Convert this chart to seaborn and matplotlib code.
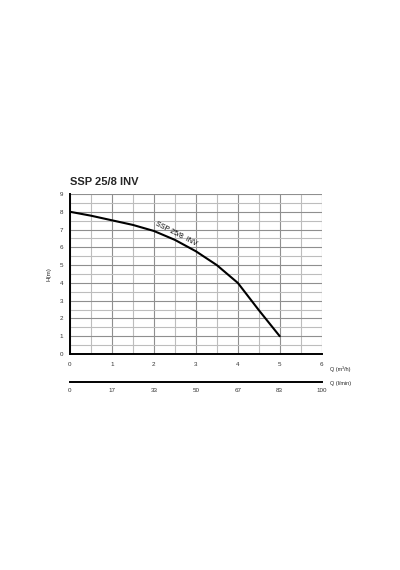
import matplotlib
matplotlib.use("Agg")
from matplotlib import pyplot as plt
import seaborn as sns

q_m3h = [0, 0.5, 1, 1.5, 2, 2.5, 3, 3.5, 4, 4.5, 5]
head_m = [8.0, 7.78, 7.52, 7.26, 6.92, 6.42, 5.78, 5.0, 4.0, 2.47, 1.0]
q_ticks = [0, 1, 2, 3, 4, 5, 6]
lmin_labels = ["0", "17", "33", "50", "67", "83", "100"]
h_ticks = [0, 1, 2, 3, 4, 5, 6, 7, 8, 9]

sns.set_style("white")
plt.rcParams["font.family"] = ["Liberation Sans", "DejaVu Sans"]

W, H = 400, 570
fig = plt.figure(figsize=(4, 5.7), dpi=100)

# main chart area (pixel box 70..321.7 x 194..354)
ax = fig.add_axes([70 / W, 1 - 354 / H, 251.7 / W, 160 / H])

for v in [i * 0.5 for i in range(13)]:
    c = "#8f8f8f" if v == int(v) else "#bdbdbd"
    ax.axvline(v, color=c, lw=0.8, zorder=0)
for v in [i * 0.5 for i in range(19)]:
    c = "#8f8f8f" if v == int(v) else "#bdbdbd"
    ax.axhline(v, color=c, lw=0.8, zorder=0)

sns.lineplot(x=q_m3h, y=head_m, ax=ax, color="black", lw=1.5, zorder=3)

ax.text(2.52, 6.74, "SSP 25/8  INV", rotation=-27, ha="center", va="center",
        fontsize=5, color="black")

ax.set_xlim(0, 6)
ax.set_ylim(0, 9)
ax.set_xticks(q_ticks)
ax.set_yticks(h_ticks)
ax.tick_params(axis="both", labelsize=4.5, length=2, width=0.8, pad=3,
               labelcolor="#333333", color="black")
ax.tick_params(axis="y", direction="out")
ax.tick_params(axis="x", direction="inout", length=3, pad=4)
for s in ["top", "right"]:
    ax.spines[s].set_visible(False)
ax.spines["left"].set_linewidth(1.4)
ax.spines["bottom"].set_linewidth(1.4)
ax.spines["left"].set_color("black")
ax.spines["bottom"].set_color("black")
ax.set_ylabel("H(m)", fontsize=4.5, labelpad=6)

fig.text(70 / W, 1 - 182 / H, "SSP 25/8 INV", fontsize=8, fontweight="bold",
         ha="left", va="center")
fig.text(330 / W, 1 - 369 / H, "Q (m³/h)", fontsize=4, ha="left", va="center")

# second scale in l/min
ax2 = fig.add_axes([70 / W, 1 - 382 / H, 251.7 / W, 0.0001])
ax2.set_xlim(0, 6)
ax2.set_xticks(q_ticks)
ax2.set_xticklabels(lmin_labels)
ax2.set_yticks([])
for s in ["top", "right", "left"]:
    ax2.spines[s].set_visible(False)
ax2.spines["bottom"].set_linewidth(1.4)
ax2.spines["bottom"].set_color("black")
ax2.tick_params(axis="x", direction="in", length=2.5, width=0.8,
                labelsize=4.5, pad=4, labelcolor="#333333")
ax2.patch.set_alpha(0)
fig.text(330 / W, 1 - 383 / H, "Q (l/min)", fontsize=4, ha="left", va="center")

fig.savefig("out.png", dpi=100)
